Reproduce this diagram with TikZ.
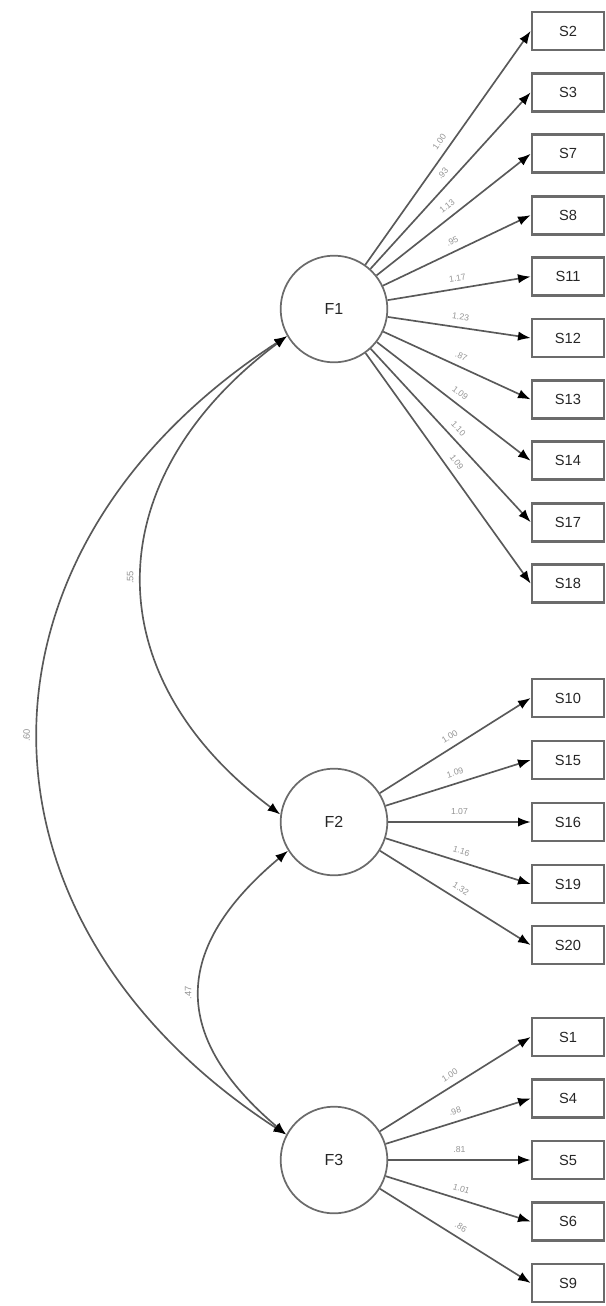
\documentclass[tikz,border=0pt]{standalone}
\usepackage{fontspec}
\setmainfont{Liberation Sans}
\usetikzlibrary{arrows.meta}
\begin{document}
\begin{tikzpicture}[x=0.75pt,y=-0.75pt,
  latent/.style={circle, draw=black!58, line width=1.3pt, minimum size=80pt, inner sep=0pt, text=black!85, font=\fontsize{12}{14}\selectfont},
  obs/.style={rectangle, draw=black!58, line width=2pt, minimum width=54pt, minimum height=28.5pt, inner sep=0pt, text=black!85, font=\fontsize{11}{13}\selectfont},
  tipb/.tip={Latex[length=9.5pt,width=7pt,color=black]},
  load/.style={draw=black!65, line width=1.25pt, -tipb},
  cov/.style={draw=black!65, line width=1.25pt, tipb-tipb},
  lab/.style={sloped, above=4.5pt, pos=0.5, font=\fontsize{6.5}{7.5}\selectfont, text=black!42, inner sep=0.5pt},
  clab/.style={pos=0.5, rotate=90, anchor=south, outer sep=5.5pt, inner sep=1pt, font=\fontsize{7}{8}\selectfont, text=black!42}]
\useasboundingbox (0,0) rectangle (606,1306);

\node[latent] (F1) at (334,309) {F1};
\node[latent] (F2) at (334,822) {F2};
\node[latent] (F3) at (334,1160) {F3};

\foreach \n/\y/\l in {S2/31/1.00, S3/92.4/.93, S7/153.8/1.13, S8/215.2/.95, S11/276.6/1.17, S12/338/1.23, S13/399.4/.87, S14/460.8/1.09, S17/522.2/1.10, S18/583.6/1.09}{
  \node[obs] (\n) at (568,\y) {\n};
  \draw[load] (F1) -- (\n.west) node[lab] {\l};
}
\foreach \n/\y/\l in {S10/698/1.00, S15/760/1.09, S16/822/1.07, S19/884/1.16, S20/945/1.32}{
  \node[obs] (\n) at (568,\y) {\n};
  \draw[load] (F2) -- (\n.west) node[lab] {\l};
}
\foreach \n/\y/\l in {S1/1037/1.00, S4/1098.5/.98, S5/1160/.81, S6/1221.5/1.01, S9/1283/.86}{
  \node[obs] (\n) at (568,\y) {\n};
  \draw[load] (F3) -- (\n.west) node[lab] {\l};
}

\draw[cov] (F1.210) .. controls (95,480) and (95,676) .. (F2.172) node[clab] {.55};
\draw[cov] (F1.210) .. controls (-44,551) and (-44,920) .. (F3.152) node[clab] {.60};
\draw[cov] (F2.212) .. controls (171,949) and (171,1037) .. (F3.152) node[clab] {.47};
\end{tikzpicture}
\end{document}
